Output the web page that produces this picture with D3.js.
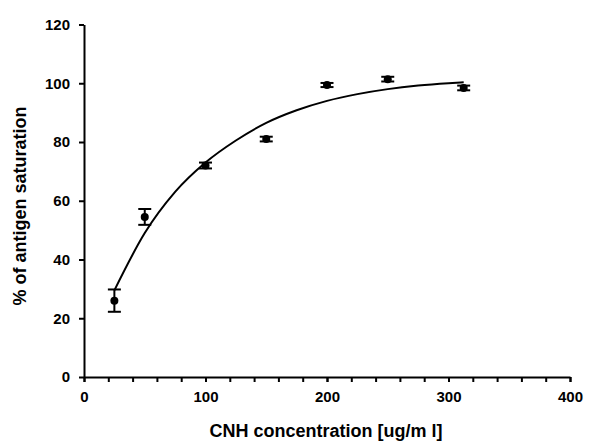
<!DOCTYPE html>
<html>
<head>
<meta charset="utf-8">
<script src="https://cdn.jsdelivr.net/npm/d3@7"></script>
<style>
  body { margin: 0; background: #fff; }
  text { font-family: "Liberation Sans", Arial, sans-serif; font-weight: bold; fill: #000; }
</style>
</head>
<body>
<div id="chart"></div>
<script>
// Measured points (mean and error)
const concentrations = [25, 50, 100, 150, 200, 250, 312.5];
const saturation = [26, 54.5, 72, 81, 99.4, 101.4, 98.4];
const errors = [3.8, 2.7, 1, 0.8, 0.7, 0.8, 0.8];

// Fitted curve
const curveX = [25, 50, 75, 100, 125, 150, 175, 200, 225, 250, 275, 300, 312.5];
const curveY = [29.5, 49, 63, 73, 80.5, 86.5, 90.8, 94, 96.3, 98, 99.2, 100, 100.3];

const xTicks = [0, 100, 200, 300, 400];
const xMinorTicks = d3.range(0, 401, 20);
const yTicks = [0, 20, 40, 60, 80, 100, 120];

const W = 589, H = 442;
const margin = {top: 24.5, right: 19, bottom: 65, left: 84};

const svg = d3.select("#chart")
    .append("svg")
        .attr("width", W)
        .attr("height", H);

const x = d3.scaleLinear()
    .domain([0, 400])
    .range([margin.left, W - margin.right]);
const y = d3.scaleLinear()
    .domain([0, 120])
    .range([H - margin.bottom, margin.top]);

// X axis: minor ticks every 20, labels every 100
svg.append("g")
    .attr("transform", "translate(0," + y(0) + ")")
    .call(d3.axisBottom(x).tickValues(xMinorTicks).tickSize(5).tickFormat(""))
    .call(g => g.select(".domain").remove())
    .call(g => g.selectAll("line").attr("stroke", "#000").attr("stroke-width", 2));
svg.append("g")
    .attr("transform", "translate(0," + y(0) + ")")
    .call(d3.axisBottom(x).tickValues(xTicks).tickSize(5).tickPadding(9).tickSizeOuter(0))
    .call(g => g.select(".domain").attr("stroke", "#000").attr("stroke-width", 2))
    .call(g => g.selectAll("line").attr("stroke", "#000").attr("stroke-width", 2))
    .call(g => g.selectAll("text").attr("font-size", 15).attr("font-family", null));

// Y axis
svg.append("g")
    .attr("transform", "translate(" + x(0) + ",0)")
    .call(d3.axisLeft(y).tickValues(yTicks).tickSize(5).tickPadding(9).tickSizeOuter(0))
    .call(g => g.select(".domain").attr("stroke", "#000").attr("stroke-width", 2))
    .call(g => g.selectAll("line").attr("stroke", "#000").attr("stroke-width", 2))
    .call(g => g.selectAll("text").attr("font-size", 15).attr("font-family", null));

// Axis titles
svg.append("text")
    .attr("x", (x(0) + x(400)) / 2 - 1)
    .attr("y", 437)
    .attr("text-anchor", "middle")
    .attr("font-size", 18)
    .text("CNH concentration [ug/m l]");
svg.append("text")
    .attr("transform", "translate(26," + 206 + ") rotate(-90)")
    .attr("text-anchor", "middle")
    .attr("font-size", 18)
    .text("% of antigen saturation");

// Fitted curve
const curve = curveX.map((c, i) => [c, curveY[i]]);
svg.append("path")
    .datum(curve)
    .attr("fill", "none")
    .attr("stroke", "#000")
    .attr("stroke-width", 2)
    .attr("d", d3.line()
        .x(d => x(d[0]))
        .y(d => y(d[1]))
        .curve(d3.curveMonotoneX));

// Points with error bars
const points = concentrations.map((c, i) => ({c: c, v: saturation[i], e: errors[i]}));
const pt = svg.append("g").selectAll("g")
    .data(points)
    .enter()
    .append("g");
pt.append("line")
    .attr("x1", d => x(d.c)).attr("x2", d => x(d.c))
    .attr("y1", d => y(d.v - d.e)).attr("y2", d => y(d.v + d.e))
    .attr("stroke", "#000").attr("stroke-width", 2);
[-1, 1].forEach(s => {
    pt.append("line")
        .attr("x1", d => x(d.c) - 6.5).attr("x2", d => x(d.c) + 6.5)
        .attr("y1", d => y(d.v + s * d.e)).attr("y2", d => y(d.v + s * d.e))
        .attr("stroke", "#000").attr("stroke-width", 2);
});
pt.append("circle")
    .attr("cx", d => x(d.c))
    .attr("cy", d => y(d.v))
    .attr("r", 4)
    .attr("fill", "#000");
</script>
</body>
</html>
